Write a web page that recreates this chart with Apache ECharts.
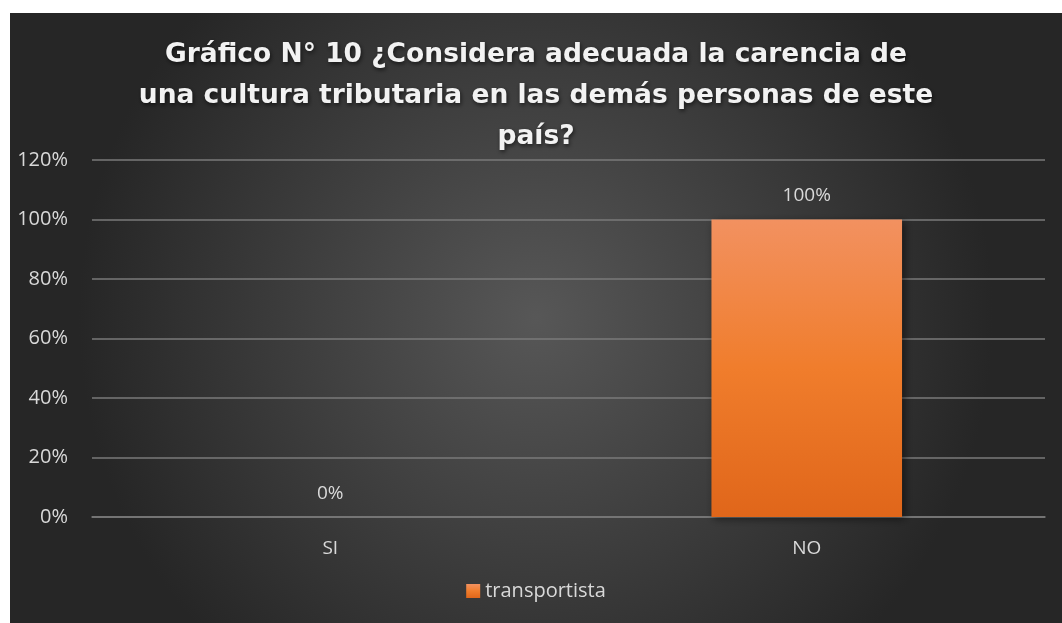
<!DOCTYPE html>
<html>
<head>
<meta charset="utf-8">
<script src="https://cdn.jsdelivr.net/npm/echarts@6/dist/echarts.min.js"></script>
<style>
  html, body { margin: 0; padding: 0; background: #fff; }
  #chart { position: absolute; left: 10px; top: 13px; width: 1052px; height: 610px; }
</style>
</head>
<body>
<div id="chart"></div>
<script>
const categories = ['SI', 'NO'];
const seriesName = 'transportista';
const values = [0, 100];
const yTicks = { min: 0, max: 120, interval: 20 };

const chart = echarts.init(document.getElementById('chart'));
const option = {
  backgroundColor: new echarts.graphic.RadialGradient(0.5, 0.5, 0.75, [
    { offset: 0, color: '#575757' },
    { offset: 1, color: '#262626' }
  ]),
  title: {
    text: 'Gráfico N° 10 ¿Considera adecuada la carencia de\nuna cultura tributaria en las demás personas de este\npaís?',
    left: 'center',
    top: 17,
    textStyle: {
      color: '#f2f2f2',
      fontFamily: 'DejaVu Sans',
      fontWeight: 'bold',
      fontSize: 26.5,
      lineHeight: 41,
      textShadowColor: 'rgba(0,0,0,0.6)',
      textShadowBlur: 4,
      textShadowOffsetX: 1,
      textShadowOffsetY: 2
    }
  },
  grid: { left: 82, right: 17, top: 147, bottom: 106, containLabel: false },
  legend: {
    data: [seriesName],
    bottom: 17,
    left: 'center',
    itemWidth: 14,
    itemHeight: 14,
    icon: 'rect',
    textStyle: { color: '#d9d9d9', fontFamily: 'Open Sans', fontSize: 20 }
  },
  xAxis: {
    type: 'category',
    data: categories,
    axisLine: { lineStyle: { color: '#7a7a7a', width: 1.5 } },
    axisTick: { show: false },
    axisLabel: { color: '#d9d9d9', fontFamily: 'Open Sans', fontSize: 19, margin: 22 }
  },
  yAxis: {
    type: 'value',
    min: yTicks.min,
    max: yTicks.max,
    interval: yTicks.interval,
    axisLine: { show: false },
    axisTick: { show: false },
    splitLine: { lineStyle: { color: '#7a7a7a', width: 1.5 } },
    axisLabel: {
      color: '#d9d9d9',
      fontFamily: 'Open Sans',
      fontSize: 20,
      margin: 24,
      formatter: '{value}%'
    }
  },
  series: [{
    name: seriesName,
    type: 'bar',
    data: values,
    barWidth: '40%',
    itemStyle: {
      color: new echarts.graphic.LinearGradient(0, 0, 0, 1, [
        { offset: 0, color: '#f29160' },
        { offset: 0.5, color: '#f07d2c' },
        { offset: 1, color: '#e0661a' }
      ]),
      shadowColor: 'rgba(0,0,0,0.5)',
      shadowBlur: 8,
      shadowOffsetX: 3,
      shadowOffsetY: 2
    },
    label: {
      show: true,
      position: 'top',
      distance: 14,
      color: '#d9d9d9',
      fontFamily: 'Open Sans',
      fontSize: 19,
      formatter: '{c}%'
    }
  }]
};
chart.setOption(option);
</script>
</body>
</html>
